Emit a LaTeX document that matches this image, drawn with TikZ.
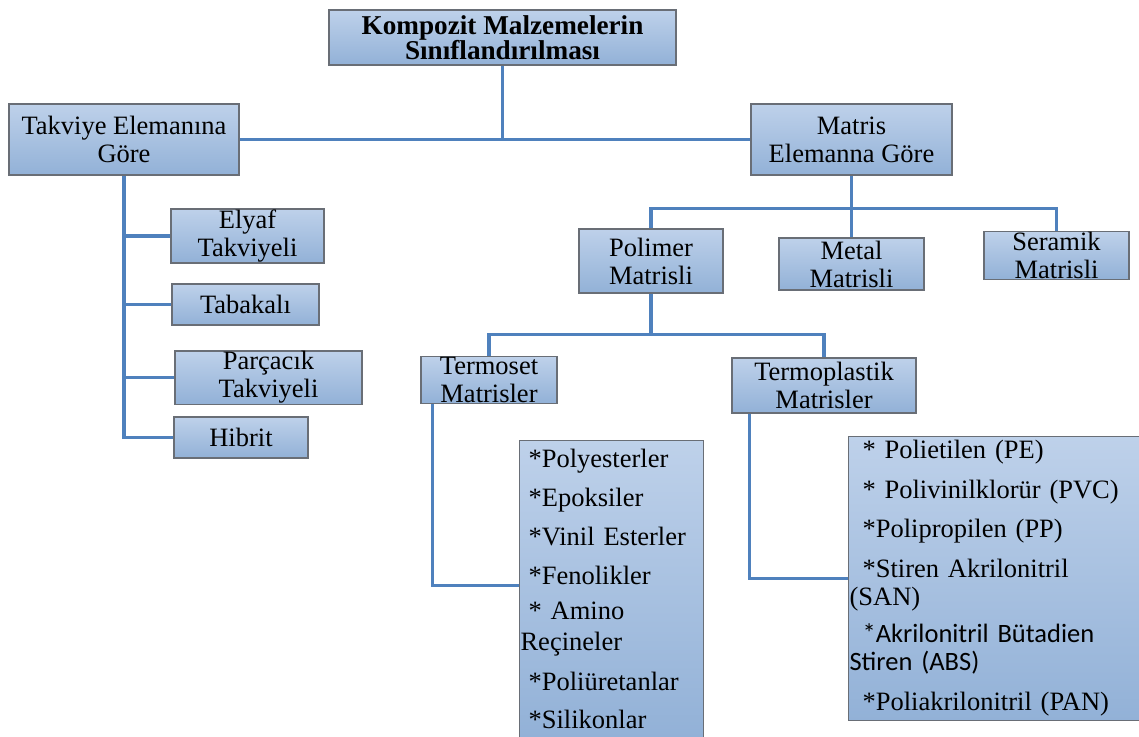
\documentclass[tikz,border=0pt]{standalone}
\usepackage{fontspec}
\setmainfont{Liberation Serif}
\newfontfamily\calibri{Carlito}

\begin{document}
\begin{tikzpicture}[x=1pt, y=-1pt,
    % Colors
    cbox/.style={top color={rgb,255:red,190;green,209;blue,234},
                 bottom color={rgb,255:red,146;green,177;blue,215},
                 draw={rgb,255:red,105;green,110;blue,118}},
    % Styles
    cat/.style={cbox, line width=1.1pt, inner xsep=2pt, inner ysep=0.5pt, align=center,
                font=\fontsize{26.5}{28}\selectfont},
    listbox/.style={cbox, line width=1.1pt, inner xsep=1pt, align=left, anchor=north west},
    link/.style={line width=3.2pt, color={rgb,255:red,79;green,129;blue,189}},
  ]
  \useasboundingbox (0,0) rectangle (1139,736);

  % Root
  \node[cat, minimum width=347pt, minimum height=55pt,
        font=\bfseries\fontsize{27.2}{25}\selectfont] (root) at (502.5, 37.5) {
    Kompozit Malzemelerin\\Sınıflandırılması
  };

  % Main groups
  \node[cat, minimum width=230pt, minimum height=71pt] (takviye) at (124, 139.5) {
    Takviye Elemanına\\Göre
  };
  \node[cat, minimum width=201pt, minimum height=71pt] (matris) at (851.5, 139.5) {
    Matris\\Elemanna Göre
  };

  % Reinforcement types
  \node[cat, minimum width=153pt, minimum height=54pt] (elyaf) at (247.5, 236) {Elyaf\\Takviyeli};
  \node[cat, minimum width=147pt, minimum height=41pt] (tabakali) at (245.5, 304.5) {Tabakalı};
  \node[cat, minimum width=187pt, minimum height=53pt] (parcacik) at (268.5, 377.5) {Parçacık\\Takviyeli};
  \node[cat, minimum width=134pt, minimum height=41pt] (hibrit) at (241, 437.5) {Hibrit};

  % Matrix types
  \node[cat, minimum width=144pt, minimum height=64pt] (polimer) at (651, 261) {Polimer\\Matrisli};
  \node[cat, minimum width=145pt, minimum height=52pt] (metal) at (851.5, 264) {Metal\\Matrisli};
  \node[cat, minimum width=145pt, minimum height=47pt] (seramik) at (1056.5, 255.5) {Seramik\\Matrisli};

  % Polymer matrix types
  \node[cat, minimum width=136pt, minimum height=46pt] (termoset) at (489, 380) {Termoset\\Matrisler};
  \node[cat, minimum width=184pt, minimum height=55pt] (termoplastik) at (824, 385.5) {Termoplastik\\Matrisler};

  % Lists
  \node[listbox, text width=182pt, inner ysep=9pt,
        font=\fontsize{26.5}{30}\selectfont] (thermolist) at (519, 440) {
    \hspace*{8pt}*Polyesterler\\[9pt]
    \hspace*{8pt}*Epoksiler\\[9pt]
    \hspace*{8pt}*Vinil Esterler\\[9pt]
    \hspace*{8pt}*Fenolikler\\[5pt]
    \hspace*{8pt}* Amino\\[1pt]
    Reçineler\\[10pt]
    \hspace*{8pt}*Poliüretanlar\\[8pt]
    \hspace*{8pt}*Silikonlar
  };
  \node[listbox, text width=289pt, inner ysep=4pt,
        font=\fontsize{26.5}{28}\selectfont] (thermoplist) at (848, 436) {
    \hspace*{13pt}* Polietilen (PE)\\[12pt]
    \hspace*{13pt}* Polivinilklorür (PVC)\\[11pt]
    \hspace*{13pt}*Polipropilen (PP)\\[12pt]
    \hspace*{13pt}*Stiren Akrilonitril\\
    (SAN)\\[9pt]
    {\calibri\hspace*{13pt}*Akrilonitril Bütadien}\\
    {\calibri Stiren (ABS)}\\[12pt]
    \hspace*{13pt}*Poliakrilonitril (PAN)
  };

  % Lines
  \draw[link] (root.south) -- (root.south |- takviye.east);
  \draw[link] (takviye.east) -- (matris.west);

  \draw[link] (takviye.south) -- (takviye.south |- hibrit.west) -- (hibrit.west);
  \draw[link] (takviye.south |- elyaf.west) -- (elyaf.west);
  \draw[link] (takviye.south |- tabakali.west) -- (tabakali.west);
  \draw[link] (takviye.south |- parcacik.west) -- (parcacik.west);

  \draw[link] (matris.south) -- ++(0,33) coordinate (mjoin);
  \draw[link] (polimer.north) |- (mjoin) -| (seramik.north);
  \draw[link] (mjoin) -- (metal.north);

  \draw[link] (polimer.south) -- ++(0,41) coordinate (pjoin);
  \draw[link] (termoset.north) |- (pjoin) -| (termoplastik.north);

  \draw[link] ([xshift=12pt]termoset.south west) |- ([yshift=4pt]thermolist.west);
  \draw[link] ([xshift=18pt]termoplastik.south west) |- (thermoplist.west);

\end{tikzpicture}
\end{document}
